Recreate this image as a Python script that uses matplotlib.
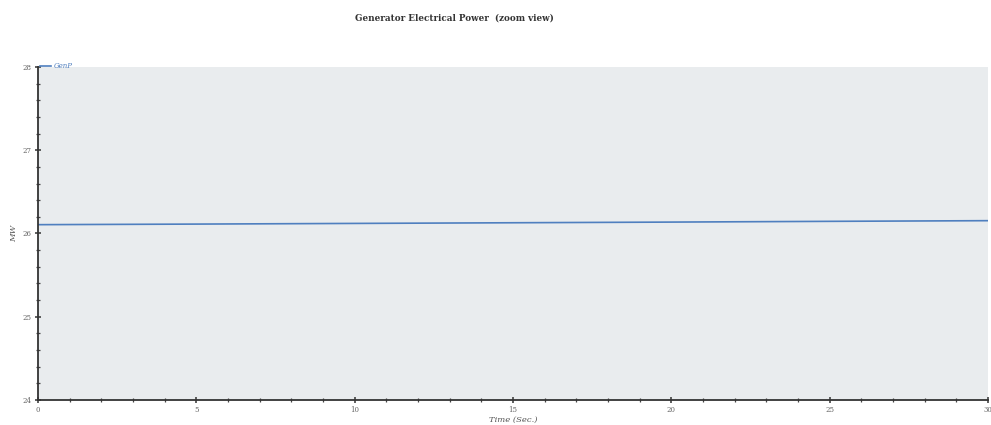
import numpy as np
import matplotlib.pyplot as plt
from matplotlib.ticker import MultipleLocator

# Generator output over the 30 s window (MW)
time_s = [0, 5, 10, 15, 20, 25, 30]
gen_power = [26.106, 26.113, 26.121, 26.129, 26.137, 26.146, 26.154]

x_ticks = [0, 5, 10, 15, 20, 25, 30]
y_ticks = [24, 25, 26, 27, 28]

fig = plt.figure(figsize=(9.91, 4.25), dpi=100, facecolor='white')
ax = fig.add_axes([0.0383, 0.0588, 0.9587, 0.7836])
ax.set_facecolor('#e9ecee')

ax.plot(time_s, gen_power, color='#4f7fbf', lw=1.2, label='GenP')

ax.set_xlim(0, 30)
ax.set_ylim(24, 28)
ax.set_xticks(x_ticks)
ax.set_yticks(y_ticks)
ax.xaxis.set_minor_locator(MultipleLocator(1))
ax.yaxis.set_minor_locator(MultipleLocator(0.2))

for side in ['top', 'right']:
    ax.spines[side].set_visible(False)
for side in ['left', 'bottom']:
    ax.spines[side].set_color('#333333')
    ax.spines[side].set_linewidth(1.3)

ax.tick_params(which='major', direction='inout', length=5, width=1.1,
               colors='#333333', labelsize=5, labelcolor='#666666', pad=2)
ax.tick_params(which='minor', direction='inout', length=3, width=0.9,
               colors='#444444')
for lbl in ax.get_xticklabels() + ax.get_yticklabels():
    lbl.set_family('serif')

ax.set_xlabel('Time (Sec.)', fontsize=6, family='serif', style='italic',
              color='#555555', labelpad=1)
ax.set_ylabel('MW', fontsize=6, family='serif', style='italic',
              color='#555555', labelpad=3)

leg = ax.legend(loc='lower left', bbox_to_anchor=(0.002, 0.99), frameon=False,
                fontsize=5, handlelength=1.6, handletextpad=0.4,
                borderaxespad=0, borderpad=0)
for t in leg.get_texts():
    t.set_color('#4f7fbf')
    t.set_style('italic')
    t.set_family('serif')

fig.text(0.459, 0.958, 'Generator Electrical Power  (zoom view)', ha='center',
         va='center', fontsize=6.3, family='serif', weight='bold', color='#333333')

fig.savefig('out.png', dpi=100, facecolor=fig.get_facecolor())
